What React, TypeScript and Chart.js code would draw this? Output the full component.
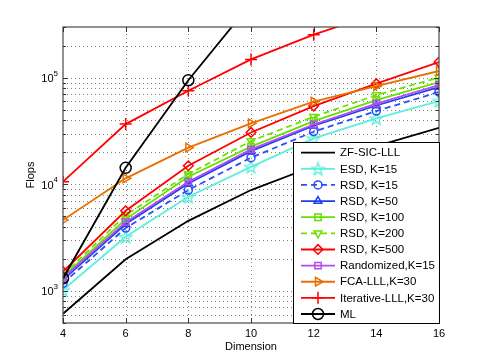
import React, { useEffect, useRef } from "react";
import { Chart, registerables } from "chart.js";
import { drawPoint } from "chart.js/helpers";

Chart.register(...registerables);

// ---------- data ----------
const dims = [4, 6, 8, 10, 12, 14, 16];
const zfSicLll = [610, 1980, 4550, 8850, 14800, 22900, 34000];
const esdK15 = [1020, 3220, 7650, 14600, 27000, 41700, 60600];
const rsdK15 = [1180, 3890, 8850, 17800, 31200, 48800, 73600];
const rsdK50 = [1270, 4240, 10200, 20500, 35500, 55000, 82000];
const rsdK100 = [1360, 4720, 11800, 22600, 39300, 61900, 91400];
const rsdK200 = [1420, 5150, 12500, 25500, 43100, 68900, 100700];
const rsdK500 = [1520, 5650, 14960, 30700, 54300, 88100, 140600];
const randomizedK15 = [1320, 4420, 10600, 21300, 36500, 57400, 85600];
const fcaLllK30 = [4620, 11400, 22100, 37400, 59700, 83800, 116000];
const iterativeLllK30 = [10600, 36800, 75700, 149000, 254000, 400000, 560000];
const mlValues = [1310, 14300, 95000, 500000, 2500000, 12000000, 50000000];

const labels = [
  "ZF-SIC-LLL",
  "ESD, K=15",
  "RSD, K=15",
  "RSD, K=50",
  "RSD, K=100",
  "RSD, K=200",
  "RSD, K=500",
  "Randomized,K=15",
  "FCA-LLL,K=30",
  "Iterative-LLL,K=30",
  "ML",
];
const xTicks = [4, 6, 8, 10, 12, 14, 16];
const yMajorExps = [3, 4, 5];
const yMin = 500;
const yMax = 300000;
const xTitle = "Dimension";
const yTitle = "Flops";

const FONT = "'Liberation Sans', Arial, Helvetica, sans-serif";

function makeStar(color: string, r: number): HTMLCanvasElement {
  const s = Math.ceil(r * 2 + 4);
  const c = document.createElement("canvas");
  c.width = s;
  c.height = s;
  const ctx = c.getContext("2d")!;
  ctx.strokeStyle = color;
  ctx.lineWidth = 1.4;
  ctx.beginPath();
  for (let i = 0; i < 10; i++) {
    const ang = -Math.PI / 2 + (i * Math.PI) / 5;
    const rad = i % 2 === 0 ? r : r * 0.42;
    const x = s / 2 + rad * Math.cos(ang);
    const y = s / 2 + 0.6 + rad * Math.sin(ang);
    if (i === 0) ctx.moveTo(x, y);
    else ctx.lineTo(x, y);
  }
  ctx.closePath();
  ctx.stroke();
  return c;
}

type Style = {
  color: string;
  dash: number[];
  pointStyle: any;
  rotation?: number;
  radius: number;
};

function buildStyles(): Style[] {
  return [
    { color: "#000000", dash: [], pointStyle: false, radius: 0 },
    { color: "#5cefdc", dash: [], pointStyle: makeStar("#5cefdc", 6.5), radius: 6 },
    { color: "#2a4cff", dash: [6, 4], pointStyle: "circle", radius: 4 },
    { color: "#1f3ef2", dash: [], pointStyle: "triangle", radius: 4.5 },
    { color: "#66e000", dash: [], pointStyle: "rect", radius: 4.5 },
    { color: "#70e000", dash: [6, 4], pointStyle: "triangle", rotation: 180, radius: 4.5 },
    { color: "#ff0000", dash: [], pointStyle: "rectRot", radius: 4.8 },
    { color: "#b44cf0", dash: [], pointStyle: "rect", radius: 4.5 },
    { color: "#e87000", dash: [], pointStyle: "triangle", rotation: 90, radius: 5 },
    { color: "#ff0000", dash: [], pointStyle: "cross", radius: 6 },
    { color: "#000000", dash: [], pointStyle: "circle", radius: 5.5 },
  ];
}

const seriesData = [
  zfSicLll,
  esdK15,
  rsdK15,
  rsdK50,
  rsdK100,
  rsdK200,
  rsdK500,
  randomizedK15,
  fcaLllK30,
  iterativeLllK30,
  mlValues,
];

export default function App() {
  const ref = useRef<HTMLCanvasElement | null>(null);

  useEffect(() => {
    const canvas = ref.current;
    if (!canvas) return;
    const styles = buildStyles();

    const datasets = seriesData.map((vals, i) => ({
      label: labels[i],
      data: dims.map((d, j) => ({ x: d, y: vals[j] })),
      borderColor: styles[i].color,
      backgroundColor: "rgba(0,0,0,0)",
      borderWidth: 1.8,
      borderDash: styles[i].dash,
      pointStyle: styles[i].pointStyle,
      pointRotation: styles[i].rotation || 0,
      pointRadius: styles[i].radius,
      pointBorderWidth: 1.5,
      pointBorderColor: styles[i].color,
      pointBackgroundColor: "rgba(0,0,0,0)",
      tension: 0,
      order: 20 - i,
    }));

    const gridPlugin = {
      id: "dottedGrid",
      beforeDatasetsDraw(chart: any) {
        const ctx = chart.ctx as CanvasRenderingContext2D;
        const ca = chart.chartArea;
        const ys = chart.scales.y;
        const xs = chart.scales.x;
        ctx.save();
        ctx.strokeStyle = "rgba(0,0,0,0.5)";
        ctx.lineWidth = 1;
        ctx.setLineDash([1, 3]);
        ctx.beginPath();
        xTicks.forEach((t) => {
          const px = Math.round(xs.getPixelForValue(t)) + 0.5;
          if (px <= ca.left + 1 || px >= ca.right - 1) return;
          ctx.moveTo(px, ca.bottom);
          ctx.lineTo(px, ca.top);
        });
        for (let e = 2; e <= 5; e++) {
          for (let m = 1; m <= 9; m++) {
            const v = m * Math.pow(10, e);
            if (v <= yMin || v >= yMax) continue;
            const py = Math.round(ys.getPixelForValue(v)) + 0.5;
            ctx.moveTo(ca.left, py);
            ctx.lineTo(ca.right, py);
          }
        }
        ctx.stroke();
        ctx.restore();
      },
    };

    const decor = {
      id: "decor",
      afterDraw(chart: any) {
        const ctx = chart.ctx as CanvasRenderingContext2D;
        const ca = chart.chartArea;
        const ys = chart.scales.y;
        const xs = chart.scales.x;
        ctx.save();
        // axes box
        ctx.strokeStyle = "#4a4a4a";
        ctx.lineWidth = 1.2;
        ctx.setLineDash([]);
        ctx.strokeRect(ca.left, ca.top, ca.right - ca.left, ca.bottom - ca.top);
        // tick marks (inside)
        ctx.lineWidth = 1;
        ctx.strokeStyle = "#333";
        ctx.beginPath();
        xTicks.forEach((t) => {
          const px = Math.round(xs.getPixelForValue(t)) + 0.5;
          ctx.moveTo(px, ca.bottom);
          ctx.lineTo(px, ca.bottom - 5);
          ctx.moveTo(px, ca.top);
          ctx.lineTo(px, ca.top + 5);
        });
        for (let e = 2; e <= 5; e++) {
          for (let m = 1; m <= 9; m++) {
            const v = m * Math.pow(10, e);
            if (v < yMin || v > yMax) continue;
            const py = Math.round(ys.getPixelForValue(v)) + 0.5;
            const len = m === 1 ? 5 : 3;
            ctx.moveTo(ca.left, py);
            ctx.lineTo(ca.left + len, py);
            ctx.moveTo(ca.right, py);
            ctx.lineTo(ca.right - len, py);
          }
        }
        ctx.stroke();

        // y tick labels 10^k
        ctx.fillStyle = "#000";
        ctx.textBaseline = "middle";
        yMajorExps.forEach((e) => {
          const py = ys.getPixelForValue(Math.pow(10, e));
          ctx.font = `8px ${FONT}`;
          const es = String(e);
          const ew = ctx.measureText(es).width;
          ctx.textAlign = "left";
          ctx.fillText(es, 58 - ew, py - 4.5);
          ctx.font = `11px ${FONT}`;
          ctx.textAlign = "right";
          ctx.fillText("10", 58 - ew, py + 1.5);
        });

        // axis titles
        ctx.font = `11px ${FONT}`;
        ctx.textAlign = "center";
        ctx.textBaseline = "middle";
        ctx.fillText(xTitle, (ca.left + ca.right) / 2, 347);
        ctx.save();
        ctx.translate(31, (ca.top + ca.bottom) / 2);
        ctx.rotate(-Math.PI / 2);
        ctx.fillText(yTitle, 0, 0);
        ctx.restore();

        // legend
        const lx0 = 293.5;
        const ly0 = 142.5;
        const lx1 = 439.5;
        const ly1 = 323.5;
        ctx.fillStyle = "#fff";
        ctx.fillRect(lx0, ly0, lx1 - lx0, ly1 - ly0);
        ctx.strokeStyle = "#000";
        ctx.lineWidth = 1;
        ctx.strokeRect(lx0, ly0, lx1 - lx0, ly1 - ly0);
        const step = 16.13;
        labels.forEach((lab, i) => {
          const y = 152.7 + i * step;
          const st = styles[i];
          ctx.strokeStyle = st.color;
          ctx.lineWidth = 1.8;
          ctx.setLineDash(st.dash);
          ctx.beginPath();
          ctx.moveTo(301, y);
          ctx.lineTo(335, y);
          ctx.stroke();
          ctx.setLineDash([]);
          if (st.pointStyle) {
            ctx.fillStyle = "rgba(0,0,0,0)";
            ctx.strokeStyle = st.color;
            ctx.lineWidth = 1.5;
            drawPoint(
              ctx,
              {
                pointStyle: st.pointStyle,
                rotation: st.rotation || 0,
                radius: st.radius,
                borderWidth: 1.5,
              } as any,
              318,
              y
            );
          }
          ctx.fillStyle = "#000";
          ctx.font = `11.5px ${FONT}`;
          ctx.textAlign = "left";
          ctx.textBaseline = "middle";
          ctx.fillText(lab, 340, y + 0.5);
        });
        ctx.restore();
      },
    };

    const chart = new Chart(canvas, {
      type: "line",
      data: { datasets: datasets as any },
      options: {
        animation: false,
        responsive: false,
        devicePixelRatio: 1,
        layout: { padding: { left: 0, right: 46, top: 27, bottom: 0 } },
        plugins: {
          legend: { display: false },
          tooltip: { enabled: false },
        },
        scales: {
          x: {
            type: "linear",
            min: 4,
            max: 16,
            afterFit: (s: any) => {
              s.height = 41;
            },
            afterBuildTicks: (s: any) => {
              s.ticks = xTicks.map((v) => ({ value: v }));
            },
            ticks: {
              color: "#000",
              font: { family: FONT, size: 11 },
              padding: 4,
              maxRotation: 0,
              callback: (v: any) => String(v),
            },
            grid: { display: false, drawTicks: false },
            border: { display: false },
          },
          y: {
            type: "logarithmic",
            min: yMin,
            max: yMax,
            afterFit: (s: any) => {
              s.width = 63;
            },
            ticks: { display: false },
            grid: { display: false, drawTicks: false },
            border: { display: false },
          },
        },
      },
      plugins: [gridPlugin, decor],
    });

    return () => chart.destroy();
  }, []);

  return (
    <div style={{ position: "fixed", left: 0, top: 0, width: 485, height: 364, background: "#fff" }}>
      <canvas ref={ref} width={485} height={364} style={{ display: "block" }} />
    </div>
  );
}
